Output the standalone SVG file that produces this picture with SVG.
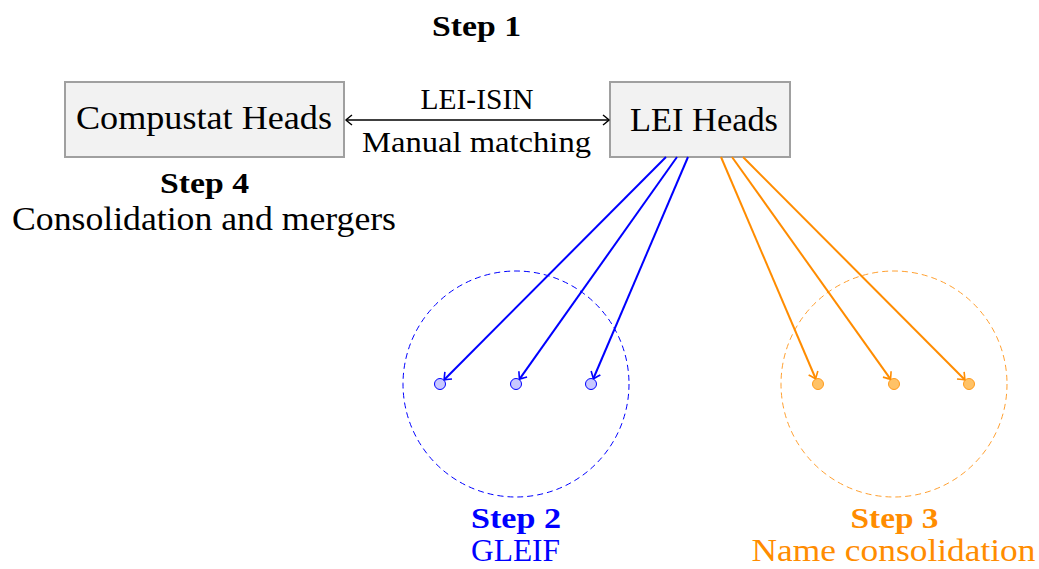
<svg xmlns="http://www.w3.org/2000/svg" width="1039" height="569" viewBox="0 0 1039 569">
<style>
text{font-family:"Liberation Serif","DejaVu Serif",serif;font-size:34px;text-anchor:middle;fill:#000}
.b{font-weight:bold}
.sm{font-size:30px}
.lo{font-size:32px}
.blue{fill:#0000ff}
.orn{fill:#ff8c00}
.box{fill:#f2f2f2;stroke:#a0a0a0;stroke-width:2}
.cb{stroke:#0000ff;stroke-width:2;fill:none}
.co{stroke:#ff8c00;stroke-width:2;fill:none}
.ck{stroke:#000;stroke-width:1.6;fill:none}
.dotb{fill:#c8c8ff;stroke:#0000ff;stroke-width:1}
.doto{fill:#ffc266;stroke:#ff9a1a;stroke-width:1}
</style>
<defs>
<marker id="ak" markerUnits="userSpaceOnUse" markerWidth="14" markerHeight="14" viewBox="-10 -7 14 14" refX="0" refY="0" orient="auto-start-reverse">
<path d="M-6,-5 Q-1,-1 0,0 Q-1,1 -6,5" fill="none" stroke="#000" stroke-width="1.4"/>
</marker>
<marker id="ab" markerUnits="userSpaceOnUse" markerWidth="14" markerHeight="14" viewBox="-10 -7 14 14" refX="0" refY="0" orient="auto">
<path d="M-6,-5 Q-1,-1 0,0 Q-1,1 -6,5" fill="none" stroke="#0000ff" stroke-width="1.6"/>
</marker>
<marker id="ao" markerUnits="userSpaceOnUse" markerWidth="14" markerHeight="14" viewBox="-10 -7 14 14" refX="0" refY="0" orient="auto">
<path d="M-6,-5 Q-1,-1 0,0 Q-1,1 -6,5" fill="none" stroke="#ff8c00" stroke-width="1.6"/>
</marker>
</defs>

<text class="b sm" x="476.5" y="36" textLength="89" lengthAdjust="spacingAndGlyphs">Step 1</text>

<g id="compustat">
<rect class="box" x="65" y="82" width="279" height="75"/>
<text x="204" y="129" textLength="256" lengthAdjust="spacingAndGlyphs">Compustat Heads</text>
<text class="b sm" x="204.5" y="193" textLength="89" lengthAdjust="spacingAndGlyphs">Step 4</text>
<text x="204" y="230" textLength="384" lengthAdjust="spacingAndGlyphs">Consolidation and mergers</text>
</g>

<g id="lei">
<rect class="box" x="610" y="82" width="180" height="75"/>
<text x="704" y="131" textLength="148" lengthAdjust="spacingAndGlyphs">LEI Heads</text>
</g>

<g id="gleif">
<circle cx="516" cy="384" r="113" fill="none" stroke="#0000ff" stroke-width="1" stroke-dasharray="6 4"/>
<circle class="dotb" cx="440" cy="384" r="5.5"/>
<circle class="dotb" cx="516" cy="384" r="5.5"/>
<circle class="dotb" cx="591" cy="384" r="5.5"/>
<text class="b sm blue" x="516" y="528" textLength="90" lengthAdjust="spacingAndGlyphs">Step 2</text>
<text class="lo blue" x="515.5" y="561" textLength="89" lengthAdjust="spacingAndGlyphs">GLEIF</text>
</g>

<g id="namecons">
<circle cx="894" cy="384" r="113" fill="none" stroke="#ffa030" stroke-width="1" stroke-dasharray="6 4"/>
<circle class="doto" cx="818" cy="384" r="5.5"/>
<circle class="doto" cx="894" cy="384" r="5.5"/>
<circle class="doto" cx="969" cy="384" r="5.5"/>
<text class="b sm orn" x="894.5" y="528" textLength="88" lengthAdjust="spacingAndGlyphs">Step 3</text>
<text class="lo orn" x="893.5" y="561" textLength="284" lengthAdjust="spacingAndGlyphs">Name consolidation</text>
</g>

<g id="connectors">
<line class="ck" x1="346" y1="120" x2="609" y2="120" marker-start="url(#ak)" marker-end="url(#ak)"/>
<text class="sm" x="477" y="109" textLength="113" lengthAdjust="spacingAndGlyphs">LEI-ISIN</text>
<text class="sm" x="476.5" y="152" textLength="229" lengthAdjust="spacingAndGlyphs">Manual matching</text>
<line class="cb" x1="666" y1="157" x2="444.2" y2="379.7" marker-end="url(#ab)"/>
<line class="cb" x1="677" y1="157" x2="519.5" y2="379.1" marker-end="url(#ab)"/>
<line class="cb" x1="688" y1="157" x2="593.4" y2="378.5" marker-end="url(#ab)"/>
<line class="co" x1="721" y1="157" x2="815.6" y2="378.5" marker-end="url(#ao)"/>
<line class="co" x1="732" y1="157" x2="890.5" y2="379.1" marker-end="url(#ao)"/>
<line class="co" x1="743" y1="157" x2="964.8" y2="379.7" marker-end="url(#ao)"/>
</g>
</svg>
